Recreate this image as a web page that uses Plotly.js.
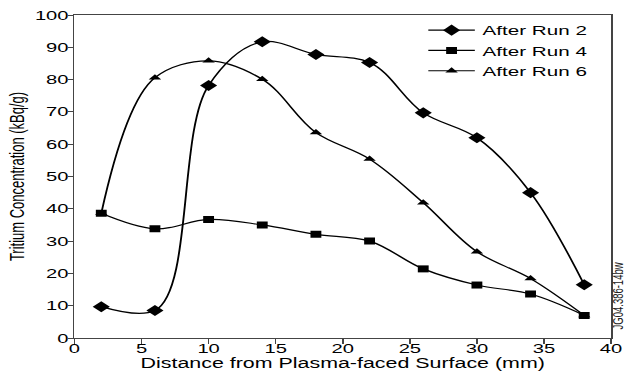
<!DOCTYPE html>
<html>
<head>
<meta charset="utf-8">
<script src="https://cdn.plot.ly/plotly-3.0.1.min.js"></script>
<style>
  html, body { margin: 0; padding: 0; background: #fff; overflow: hidden; }
  #chart { width: 403px; height: 373px; transform: scaleX(1.5509); transform-origin: 0 0; }
</style>
</head>
<body>
<div id="chart"></div>
<script>
// Data
const distance = [2, 6, 10, 14, 18, 22, 26, 30, 34, 38];
const run2 = [9.7, 8.5, 78.2, 91.7, 87.8, 85.3, 69.7, 62, 45, 16.5];
const run4 = [38.6, 33.8, 36.7, 35, 32.1, 30, 21.4, 16.4, 13.6, 7];
const run6 = [38.6, 80.6, 85.8, 80.1, 63.6, 55.4, 41.9, 26.7, 18.4, 7];
const seriesNames = ['After Run 2', 'After Run 4', 'After Run 6'];
const xTicks = [0, 5, 10, 15, 20, 25, 30, 35, 40];
const yTicks = [0, 10, 20, 30, 40, 50, 60, 70, 80, 90, 100];

const FONT = 'Liberation Sans, Arial, Helvetica, sans-serif';
const lineStyle = { color: '#000', width: 1.2, shape: 'spline', smoothing: 1 };

const traces = [
  { x: distance, y: run2, name: seriesNames[0], mode: 'lines+markers', line: lineStyle,
    marker: { symbol: 'diamond', size: 8.5, color: '#000' } },
  { x: distance, y: run4, name: seriesNames[1], mode: 'lines+markers', line: lineStyle,
    marker: { symbol: 'square', size: 7, color: '#000' } },
  { x: distance, y: run6, name: seriesNames[2], mode: 'lines+markers', line: lineStyle,
    marker: { symbol: 'triangle-up', size: 7, color: '#000' } }
];

const layout = {
  width: 403, height: 373,
  margin: { l: 48.4, r: 8.7, t: 15, b: 35 },
  paper_bgcolor: '#fff', plot_bgcolor: '#fff',
  font: { family: FONT, size: 13, color: '#000' },
  showlegend: true,
  legend: { x: 0.645, xanchor: 'left', y: 1.0, yanchor: 'top',
            bgcolor: 'rgba(0,0,0,0)', font: { family: FONT, size: 13.3, color: '#000' } },
  xaxis: {
    range: [0, 40], tickvals: xTicks, ticktext: xTicks.map(String),
    showline: true, mirror: true, linecolor: '#444', linewidth: 1,
    ticks: 'outside', ticklen: 5, tickcolor: '#444', tickwidth: 1,
    ticklabelstandoff: -7,
    showgrid: false, zeroline: false,
    tickfont: { family: FONT, size: 13, color: '#000' },
    title: { text: 'Distance from Plasma-faced Surface (mm)', font: { family: FONT, size: 13.8, color: '#000' }, standoff: 1 }
  },
  yaxis: {
    range: [0, 100], tickvals: yTicks, ticktext: yTicks.map(String),
    showline: true, mirror: true, linecolor: '#444', linewidth: 1,
    ticks: 'outside', ticklen: 3.2, tickcolor: '#444', tickwidth: 1,
    ticklabelstandoff: -3,
    showgrid: false, zeroline: false,
    tickfont: { family: FONT, size: 13, color: '#000' },
    title: { text: 'Tritium Concentration (kBq/g)', font: { family: FONT, size: 13, color: '#000' }, standoff: 3 }
  },
  annotations: [
    { text: 'JG04.386-14bw', xref: 'paper', yref: 'paper', x: 1.010, y: 0.13,
      xanchor: 'center', yanchor: 'middle', textangle: -90, showarrow: false,
      font: { family: FONT, size: 9.5, color: '#222' } }
  ]
};

Plotly.newPlot('chart', traces, layout, { displayModeBar: false, staticPlot: true });
</script>
</body>
</html>
